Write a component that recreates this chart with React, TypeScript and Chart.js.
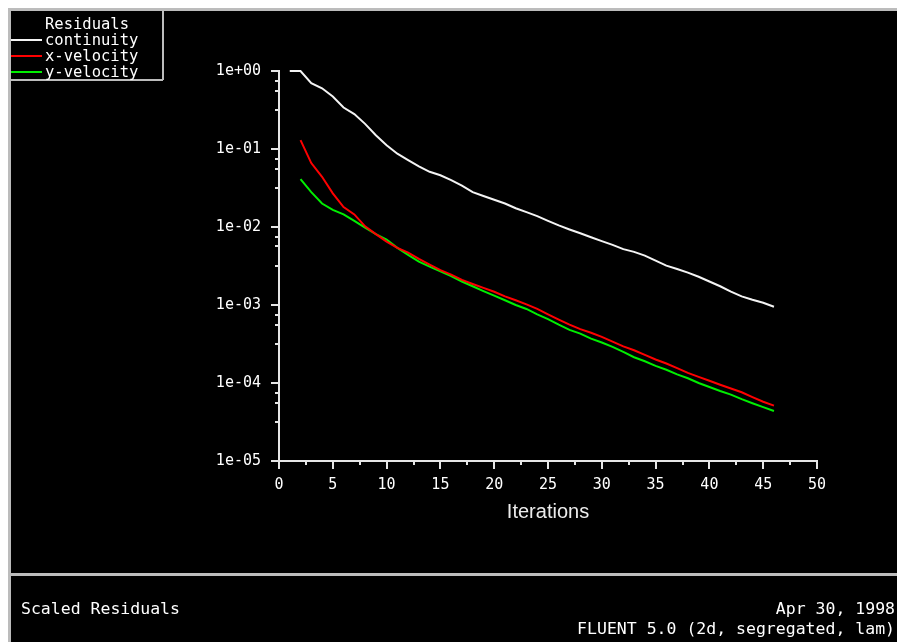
import React, { useEffect, useRef } from 'react';
import { Chart, registerables } from 'chart.js';

Chart.register(...registerables);

// ---- data ----
const iterations = [
  1, 2, 3, 4, 5, 6, 7, 8, 9, 10, 11, 12, 13, 14, 15, 16, 17, 18, 19, 20, 21, 22, 23,
  24, 25, 26, 27, 28, 29, 30, 31, 32, 33, 34, 35, 36, 37, 38, 39, 40, 41, 42, 43, 44,
  45, 46,
];

// iterations 1..46
const continuity = [
  1.0, 1.0, 0.7, 0.6, 0.47, 0.34, 0.28, 0.21, 0.15, 0.112,
  0.087, 0.072, 0.06, 0.051, 0.046, 0.04, 0.034, 0.028, 0.025, 0.0224,
  0.02, 0.0174, 0.0155, 0.0138, 0.012, 0.0105, 0.0093, 0.0083, 0.0074, 0.0066,
  0.0059, 0.0052, 0.0048, 0.0043, 0.0037, 0.0032, 0.0029, 0.0026, 0.0023, 0.002,
  0.00174, 0.00148, 0.00129, 0.00117, 0.00107, 0.00095,
];

// iterations 2..46
const xVelocity = [
  0.13, 0.066, 0.044, 0.027, 0.018, 0.0145, 0.0102, 0.0081, 0.0065, 0.0054,
  0.0047, 0.0039, 0.0033, 0.0028, 0.00245, 0.0021, 0.00186, 0.00166, 0.00148, 0.00129,
  0.00115, 0.00102, 0.00089, 0.00076, 0.00065, 0.00056, 0.00049, 0.00044, 0.00039, 0.00034,
  0.000295, 0.000263, 0.000229, 0.0002, 0.000178, 0.000155, 0.000135, 0.00012, 0.000107, 0.000095,
  0.000085, 0.000076, 0.000066, 0.0000575, 0.0000513,
];

// iterations 2..46
const yVelocity = [
  0.041, 0.028, 0.02, 0.0166, 0.0145, 0.012, 0.0098, 0.0081, 0.0069, 0.0054,
  0.0044, 0.0036, 0.0031, 0.0027, 0.00234, 0.002, 0.00174, 0.00151, 0.00132, 0.00115,
  0.001, 0.00089, 0.00076, 0.00066, 0.00056, 0.00048, 0.00043, 0.00037, 0.00033, 0.00029,
  0.00025, 0.000214, 0.00019, 0.000166, 0.000148, 0.000129, 0.000115, 0.0001, 0.000089, 0.000079,
  0.000071, 0.000062, 0.000055, 0.000049, 0.0000437,
];

const seriesLabels = ['continuity', 'x-velocity', 'y-velocity'];
const seriesColors = ['#f4f4f4', '#ff0000', '#00ee00'];

const yDecades = [0, -1, -2, -3, -4, -5];
const yMinorLogOffsets = [0.125, 0.25, 0.5];
const xMin = 0;
const xMax = 50;
const xStep = 2.5;
const xLabelStep = 5;

const legendTitle = 'Residuals';
const footerLeft = 'Scaled Residuals';
const footerDate = 'Apr 30, 1998';
const footerInfo = 'FLUENT 5.0 (2d, segregated, lam)';
const xTitle = 'Iterations';

const MONO = '"DejaVu Sans Mono", monospace';
const AXIS = '#e6e6e6';
const FRAME = '#bcbcbc';

function fmtExp(v: number): string {
  const n = Math.round(Math.log10(v));
  const sign = n >= 0 ? '+' : '-';
  return '1e' + sign + String(Math.abs(n)).padStart(2, '0');
}

const decorPlugin = {
  id: 'fluentDecor',
  beforeDraw(chart: any) {
    const { ctx, width, height } = chart;
    ctx.save();
    ctx.fillStyle = '#000000';
    ctx.fillRect(0, 0, width, height);
    // outer frame (left and top)
    ctx.fillStyle = FRAME;
    ctx.fillRect(0, 0, width, 3);
    ctx.fillRect(0, 0, 3, height);
    ctx.restore();
  },
  afterDraw(chart: any) {
    const { ctx, width, chartArea } = chart;
    const xs = chart.scales.x;
    const ys = chart.scales.y;
    ctx.save();
    // tick marks
    ctx.strokeStyle = AXIS;
    ctx.lineWidth = 2;
    ctx.beginPath();
    ys.ticks.forEach((t: any) => {
      const py = Math.round(ys.getPixelForValue(t.value));
      const len = t.major ? 8 : 4;
      ctx.moveTo(chartArea.left - len, py);
      ctx.lineTo(chartArea.left, py);
    });
    xs.ticks.forEach((t: any) => {
      const px = Math.round(xs.getPixelForValue(t.value));
      const len = Math.abs(t.value % xLabelStep) < 1e-9 ? 8 : 4;
      ctx.moveTo(px, chartArea.bottom);
      ctx.lineTo(px, chartArea.bottom + len);
    });
    ctx.stroke();

    // legend box
    const boxR = 155;
    const boxB = 72;
    ctx.strokeStyle = FRAME;
    ctx.lineWidth = 2;
    ctx.beginPath();
    ctx.moveTo(boxR, 0);
    ctx.lineTo(boxR, boxB);
    ctx.moveTo(0, boxB);
    ctx.lineTo(boxR, boxB);
    ctx.stroke();

    ctx.fillStyle = '#ffffff';
    ctx.font = '15.5px ' + MONO;
    ctx.textBaseline = 'middle';
    ctx.textAlign = 'center';
    ctx.fillText(legendTitle, (3 + boxR) / 2, 17);
    ctx.textAlign = 'left';
    chart.data.datasets.forEach((ds: any, i: number) => {
      const yy = 32 + i * 16;
      ctx.strokeStyle = ds.borderColor;
      ctx.lineWidth = 2;
      ctx.beginPath();
      ctx.moveTo(3, yy);
      ctx.lineTo(34, yy);
      ctx.stroke();
      ctx.fillStyle = '#ffffff';
      ctx.fillText(ds.label, 37, yy + 1);
    });

    // footer
    ctx.fillStyle = FRAME;
    ctx.fillRect(0, 565, width, 3);
    ctx.fillStyle = '#ffffff';
    ctx.font = '16.5px ' + MONO;
    ctx.textBaseline = 'middle';
    ctx.textAlign = 'left';
    ctx.fillText(footerLeft, 13, 602);
    ctx.textAlign = 'right';
    ctx.fillText(footerDate, 887, 602);
    ctx.fillText(footerInfo, 887, 622);
    ctx.restore();
  },
};

export default function App() {
  const ref = useRef<HTMLCanvasElement>(null);

  useEffect(() => {
    const canvas = ref.current;
    if (!canvas) return;
    const chart = new Chart(canvas, {
      type: 'line',
      data: {
        datasets: [
          {
            label: seriesLabels[0],
            data: continuity.map((v, i) => ({ x: iterations[i], y: v })),
            borderColor: seriesColors[0],
            backgroundColor: seriesColors[0],
            borderWidth: 2,
            pointRadius: 0,
            tension: 0,
            clip: 4,
          },
          {
            label: seriesLabels[1],
            data: xVelocity.map((v, i) => ({ x: iterations[i + 1], y: v })),
            borderColor: seriesColors[1],
            backgroundColor: seriesColors[1],
            borderWidth: 2,
            pointRadius: 0,
            tension: 0,
            clip: 4,
          },
          {
            label: seriesLabels[2],
            data: yVelocity.map((v, i) => ({ x: iterations[i + 1], y: v })),
            borderColor: seriesColors[2],
            backgroundColor: seriesColors[2],
            borderWidth: 2,
            pointRadius: 0,
            tension: 0,
            clip: 4,
          },
        ],
      },
      options: {
        responsive: false,
        animation: false,
        devicePixelRatio: 1,
        layout: { padding: { left: 0, top: 63, right: 80, bottom: 0 } },
        plugins: {
          legend: { display: false },
          tooltip: { enabled: false },
        },
        scales: {
          x: {
            type: 'linear',
            min: xMin,
            max: xMax,
            afterFit: (s: any) => {
              s.height = 181;
            },
            grid: {
              display: true,
              drawOnChartArea: false,
              drawTicks: true,
              tickLength: 8,
              tickColor: 'transparent',
            },
            border: { display: true, color: AXIS, width: 2 },
            ticks: {
              stepSize: xStep,
              autoSkip: false,
              maxRotation: 0,
              color: '#ffffff',
              font: { family: MONO, size: 15 },
              padding: 7,
              callback: (v: any) =>
                Math.abs(Number(v) % xLabelStep) < 1e-9 ? String(v) : '',
            },
            title: {
              display: true,
              text: xTitle,
              color: '#ececec',
              font: { family: '"Liberation Sans", Arial, sans-serif', size: 20 },
              padding: { top: 0, bottom: 118 },
            },
          },
          y: {
            type: 'logarithmic',
            min: 1e-5,
            max: 1,
            afterFit: (s: any) => {
              s.width = 271;
            },
            afterBuildTicks: (s: any) => {
              const t: any[] = [];
              yDecades.forEach((d) => {
                t.push({ value: Math.pow(10, d), major: true });
                yMinorLogOffsets.forEach((o) => {
                  if (d - o >= -5) t.push({ value: Math.pow(10, d - o), major: false });
                });
              });
              t.sort((a, b) => a.value - b.value);
              s.ticks = t;
            },
            grid: {
              display: true,
              drawOnChartArea: false,
              drawTicks: true,
              tickLength: 8,
              tickColor: 'transparent',
            },
            border: { display: true, color: AXIS, width: 2 },
            ticks: {
              autoSkip: false,
              color: '#ffffff',
              font: { family: MONO, size: 15 },
              padding: 10,
              callback: (v: any, i: number, ticks: any[]) =>
                ticks[i] && ticks[i].major ? fmtExp(Number(v)) : '',
            },
          },
        },
      },
      plugins: [decorPlugin],
    } as any);
    return () => chart.destroy();
  }, []);

  return (
    <canvas
      ref={ref}
      width={889}
      height={634}
      style={{ position: 'fixed', left: 8, top: 8, width: 889, height: 634, display: 'block' }}
    />
  );
}
